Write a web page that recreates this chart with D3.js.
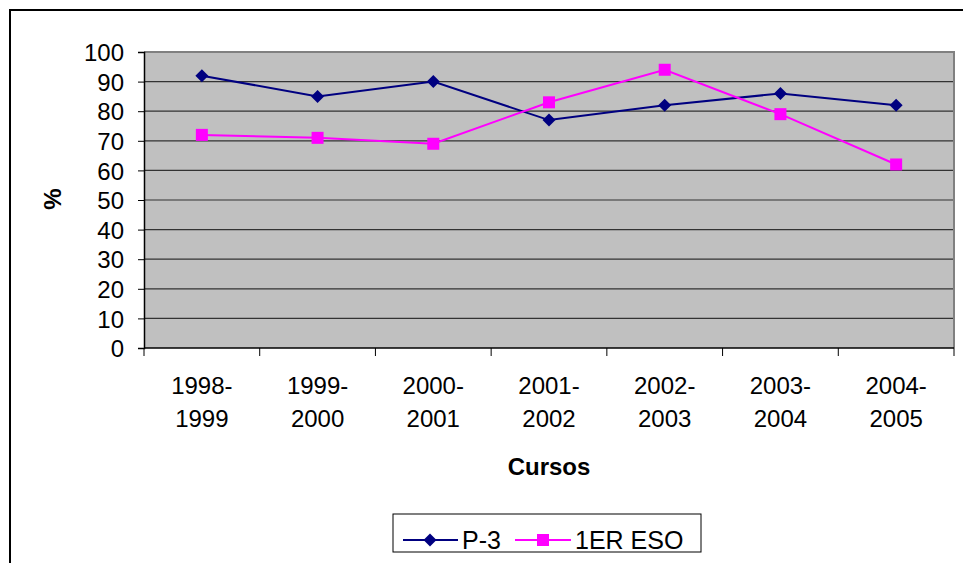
<!DOCTYPE html>
<html><head><meta charset="utf-8">
<script src="https://cdn.jsdelivr.net/npm/d3@7"></script>
<style>body{margin:0;background:#fff}svg{display:block}text{font-family:Arial,"Liberation Sans",sans-serif}</style>
</head><body>
<svg id="c" width="963" height="563"></svg>
<script>
const categories = [["1998-","1999"],["1999-","2000"],["2000-","2001"],["2001-","2002"],["2002-","2003"],["2003-","2004"],["2004-","2005"]];
const seriesP3 = [92, 85, 90, 77, 82, 86, 82];
const seriesESO = [72, 71, 69, 83, 94, 79, 62];
const seriesNames = ["P-3", "1ER ESO"];
const yTicks = [0,10,20,30,40,50,60,70,80,90,100];
const xTitle = "Cursos", yTitle = "%";

const svg = d3.select("#c");
const L=144, R=954, T=52, B=348;
const FS = 24;
// outer border
svg.append("rect").attr("x",10).attr("y",10).attr("width",970).attr("height",600)
  .attr("fill","none").attr("stroke","#000").attr("stroke-width",2);

const x = d3.scaleBand().domain(d3.range(categories.length)).range([L,R]).paddingInner(0).paddingOuter(0);
const y = d3.scaleLinear().domain([0,100]).range([B,T]);

svg.append("rect").attr("x",L).attr("y",T).attr("width",R-L).attr("height",B-T).attr("fill","#c0c0c0");
// gridlines
svg.append("g").selectAll("line").data(yTicks.filter(d=>d>0&&d<100)).join("line")
  .attr("x1",L).attr("x2",R).attr("y1",d=>y(d)).attr("y2",d=>y(d))
  .attr("stroke","#333").attr("stroke-width",1.2);
// plot border top/right
svg.append("path").attr("d",`M${L},${T}H${R}V${B}`).attr("fill","none").attr("stroke","#808080").attr("stroke-width",2);

// y axis
const ya = svg.append("g").attr("transform",`translate(${L},0)`)
  .call(d3.axisLeft(y).tickValues(yTicks).tickSize(6).tickPadding(14));
ya.select(".domain").attr("stroke","#000").attr("stroke-width",1.5);
ya.selectAll(".tick line").attr("stroke","#000");
ya.selectAll("text").attr("font-size",FS).attr("fill","#000").attr("font-family","Arial, Liberation Sans, sans-serif").attr("dy","0.36em");

// x axis
const xa = svg.append("g").attr("transform",`translate(0,${B})`);
xa.append("line").attr("x1",L).attr("x2",R).attr("stroke","#000").attr("stroke-width",1.5);
const edges = d3.range(categories.length+1).map(i=> i<categories.length ? x(i) : x(i-1)+x.bandwidth());
xa.selectAll("line.t").data(edges).join("line").attr("class","t")
  .attr("x1",d=>d).attr("x2",d=>d).attr("y1",0).attr("y2",8).attr("stroke","#000");
const lbl = xa.selectAll("text.l").data(categories).join("text").attr("class","l")
  .attr("text-anchor","middle").attr("font-size",FS).attr("fill","#000");
lbl.each(function(d,i){
  const t=d3.select(this);
  t.append("tspan").attr("x",x(i)+x.bandwidth()/2).attr("y",46).text(d[0]);
  t.append("tspan").attr("x",x(i)+x.bandwidth()/2).attr("y",79).text(d[1]);
});

// titles
svg.append("text").attr("x",(L+R)/2).attr("y",475).attr("text-anchor","middle")
  .attr("font-size",FS).attr("font-weight","bold").text(xTitle);
svg.append("text").attr("transform","translate(61,199) rotate(-90)").attr("text-anchor","middle")
  .attr("font-size",FS).attr("font-weight","bold").text(yTitle);

const cx = i=>x(i)+x.bandwidth()/2;
const line = d3.line().x((d,i)=>cx(i)).y(d=>y(d));
const navy="#000080", pink="#ff00ff";
svg.append("path").datum(seriesP3).attr("d",line).attr("fill","none").attr("stroke",navy).attr("stroke-width",2);
svg.append("path").datum(seriesESO).attr("d",line).attr("fill","none").attr("stroke",pink).attr("stroke-width",2);
const diamond = (px,py,s)=>`M${px},${py-s}L${px+s},${py}L${px},${py+s}L${px-s},${py}Z`;
svg.append("g").selectAll("path").data(seriesP3).join("path")
  .attr("d",(d,i)=>diamond(cx(i),y(d),6.5)).attr("fill",navy);
svg.append("g").selectAll("rect").data(seriesESO).join("rect")
  .attr("x",(d,i)=>cx(i)-6).attr("y",d=>y(d)-6).attr("width",12).attr("height",12).attr("fill",pink);

// legend
const lg = svg.append("g");
lg.append("rect").attr("x",393).attr("y",514).attr("width",308).attr("height",38)
  .attr("fill","#fff").attr("stroke","#000").attr("stroke-width",1);
lg.append("line").attr("x1",403).attr("x2",458).attr("y1",540).attr("y2",540).attr("stroke",navy).attr("stroke-width",2);
lg.append("path").attr("d",diamond(430,540,6.5)).attr("fill",navy);
lg.append("text").attr("x",462).attr("y",549).attr("font-size",25).text(seriesNames[0]);
lg.append("line").attr("x1",515).attr("x2",571).attr("y1",540).attr("y2",540).attr("stroke",pink).attr("stroke-width",2);
lg.append("rect").attr("x",537).attr("y",534).attr("width",12).attr("height",12).attr("fill",pink);
lg.append("text").attr("x",575).attr("y",549).attr("font-size",25).text(seriesNames[1]);
</script>
</body></html>
